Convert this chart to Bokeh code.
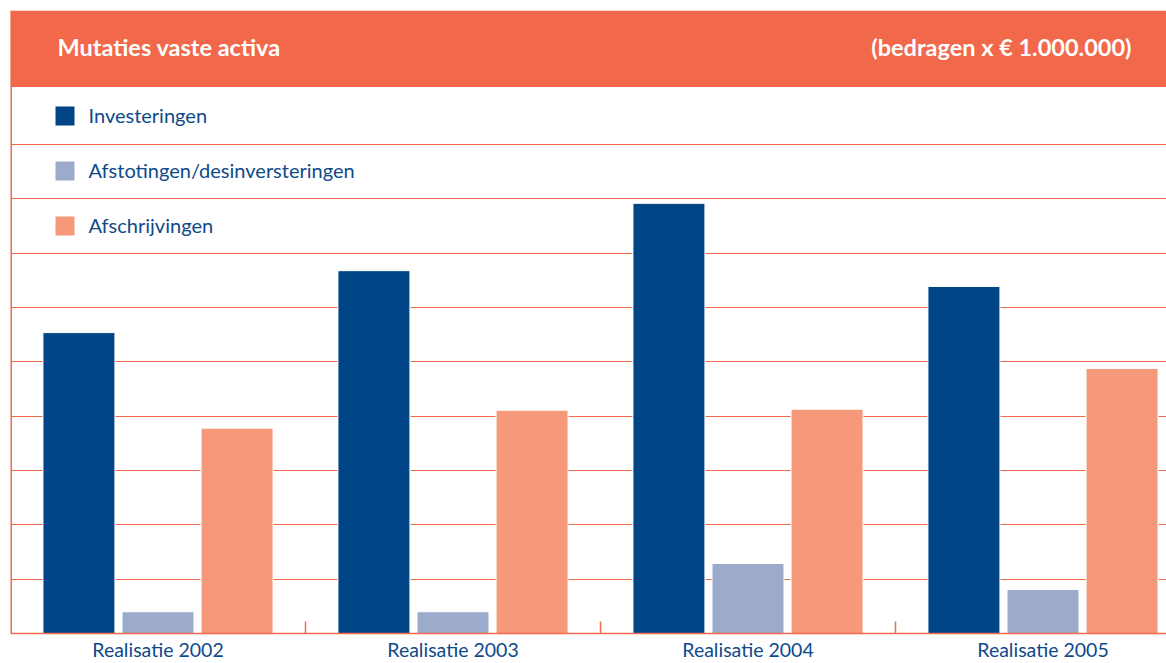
from bokeh.plotting import figure
from bokeh.models import (ColumnDataSource, Range1d, FixedTicker, BoxAnnotation, Label,
                          Span, Legend, LegendItem)
from bokeh.transform import dodge
from bokeh.embed import file_html
from bokeh.resources import INLINE

# ---- data ----
categories = ["Realisatie 2002", "Realisatie 2003", "Realisatie 2004", "Realisatie 2005"]
investeringen = [5.54, 6.68, 7.92, 6.39]
afstotingen = [0.40, 0.40, 1.29, 0.81]
afschrijvingen = [3.78, 4.11, 4.13, 4.88]
series_names = ["Investeringen", "Afstotingen/desinversteringen", "Afschrijvingen"]
title_text = "Mutaties vaste activa"
unit_text = "(bedragen x \u20ac 1.000.000)"

FONT = "Lato"
HEADER = "#F1684B"
GRID = "#F26A4D"
TEXT_BLUE = "#0E4A8A"
colors = ["#004687", "#9CABCB", "#F6997A"]

centers = [i + 0.5 for i in range(len(categories))]
src = ColumnDataSource(dict(x=centers, inv=investeringen, afs=afstotingen, sch=afschrijvingen))

W, H = 1166, 663
p = figure(width=W, height=H, output_backend="svg", toolbar_location=None,
           x_range=Range1d(0, 1156 / 295), y_range=Range1d(0, 11.47),
           min_border_left=10, min_border_right=0, min_border_top=10, min_border_bottom=0)
p.outline_line_color = None
p.background_fill_color = "white"
p.border_fill_color = "white"

bw = 0.244
step = 0.268
r1 = p.vbar(x=dodge("x", -step), top="inv", width=bw, source=src,
            fill_color=colors[0], line_color="white", line_width=1)
r2 = p.vbar(x=dodge("x", 0), top="afs", width=bw, source=src,
            fill_color=colors[1], line_color="white", line_width=1)
r3 = p.vbar(x=dodge("x", step), top="sch", width=bw, source=src,
            fill_color=colors[2], line_color="white", line_width=1)

# grid
p.xgrid.visible = False
p.ygrid.ticker = FixedTicker(ticks=list(range(1, 10)))
p.ygrid.grid_line_color = GRID
p.ygrid.grid_line_width = 1
p.ygrid.grid_line_alpha = 1
p.yaxis.visible = False

# x axis
xa = p.xaxis[0]
xa.ticker = FixedTicker(ticks=centers, minor_ticks=[1, 2, 3])
xa.major_label_overrides = {c: lab for c, lab in zip(centers, categories)}
xa.major_tick_in = 0
xa.major_tick_out = 0
xa.minor_tick_in = 12
xa.minor_tick_out = 0
xa.minor_tick_line_color = GRID
xa.minor_tick_line_width = 1.5
xa.axis_line_color = GRID
xa.axis_line_width = 1.5
xa.major_label_text_font = FONT
xa.major_label_text_font_size = "19.5px"
xa.major_label_text_color = TEXT_BLUE
xa.major_label_standoff = 4

# left border
p.add_layout(Span(location=0, dimension="height", line_color=GRID, line_width=3))

# header band
p.add_layout(BoxAnnotation(bottom=10.06, fill_color=HEADER, fill_alpha=1, line_color=None, level="overlay"))
p.add_layout(Label(x=47 / 295, y=10.79, text=title_text, text_font=FONT, text_font_size="23.5px",
                   text_font_style="bold", text_color="white", text_baseline="middle", level="overlay"))
p.add_layout(Label(x=1121 / 295, y=10.79, text=unit_text, text_font=FONT, text_font_size="23.5px",
                   text_font_style="bold", text_color="white", text_baseline="middle",
                   text_align="right", level="overlay"))

# legend
legend = Legend(items=[LegendItem(label=series_names[0], renderers=[r1]),
                       LegendItem(label=series_names[1], renderers=[r2]),
                       LegendItem(label=series_names[2], renderers=[r3])],
                location=(41.5, 395.5), orientation="vertical",
                glyph_width=25, glyph_height=25, label_height=25, spacing=30,
                label_standoff=12, padding=0, margin=0, border_line_color=None,
                background_fill_alpha=0,
                label_text_font=FONT, label_text_font_size="20px", label_text_color=TEXT_BLUE)
p.add_layout(legend)

open("out.html", "w").write(file_html(p, INLINE))
